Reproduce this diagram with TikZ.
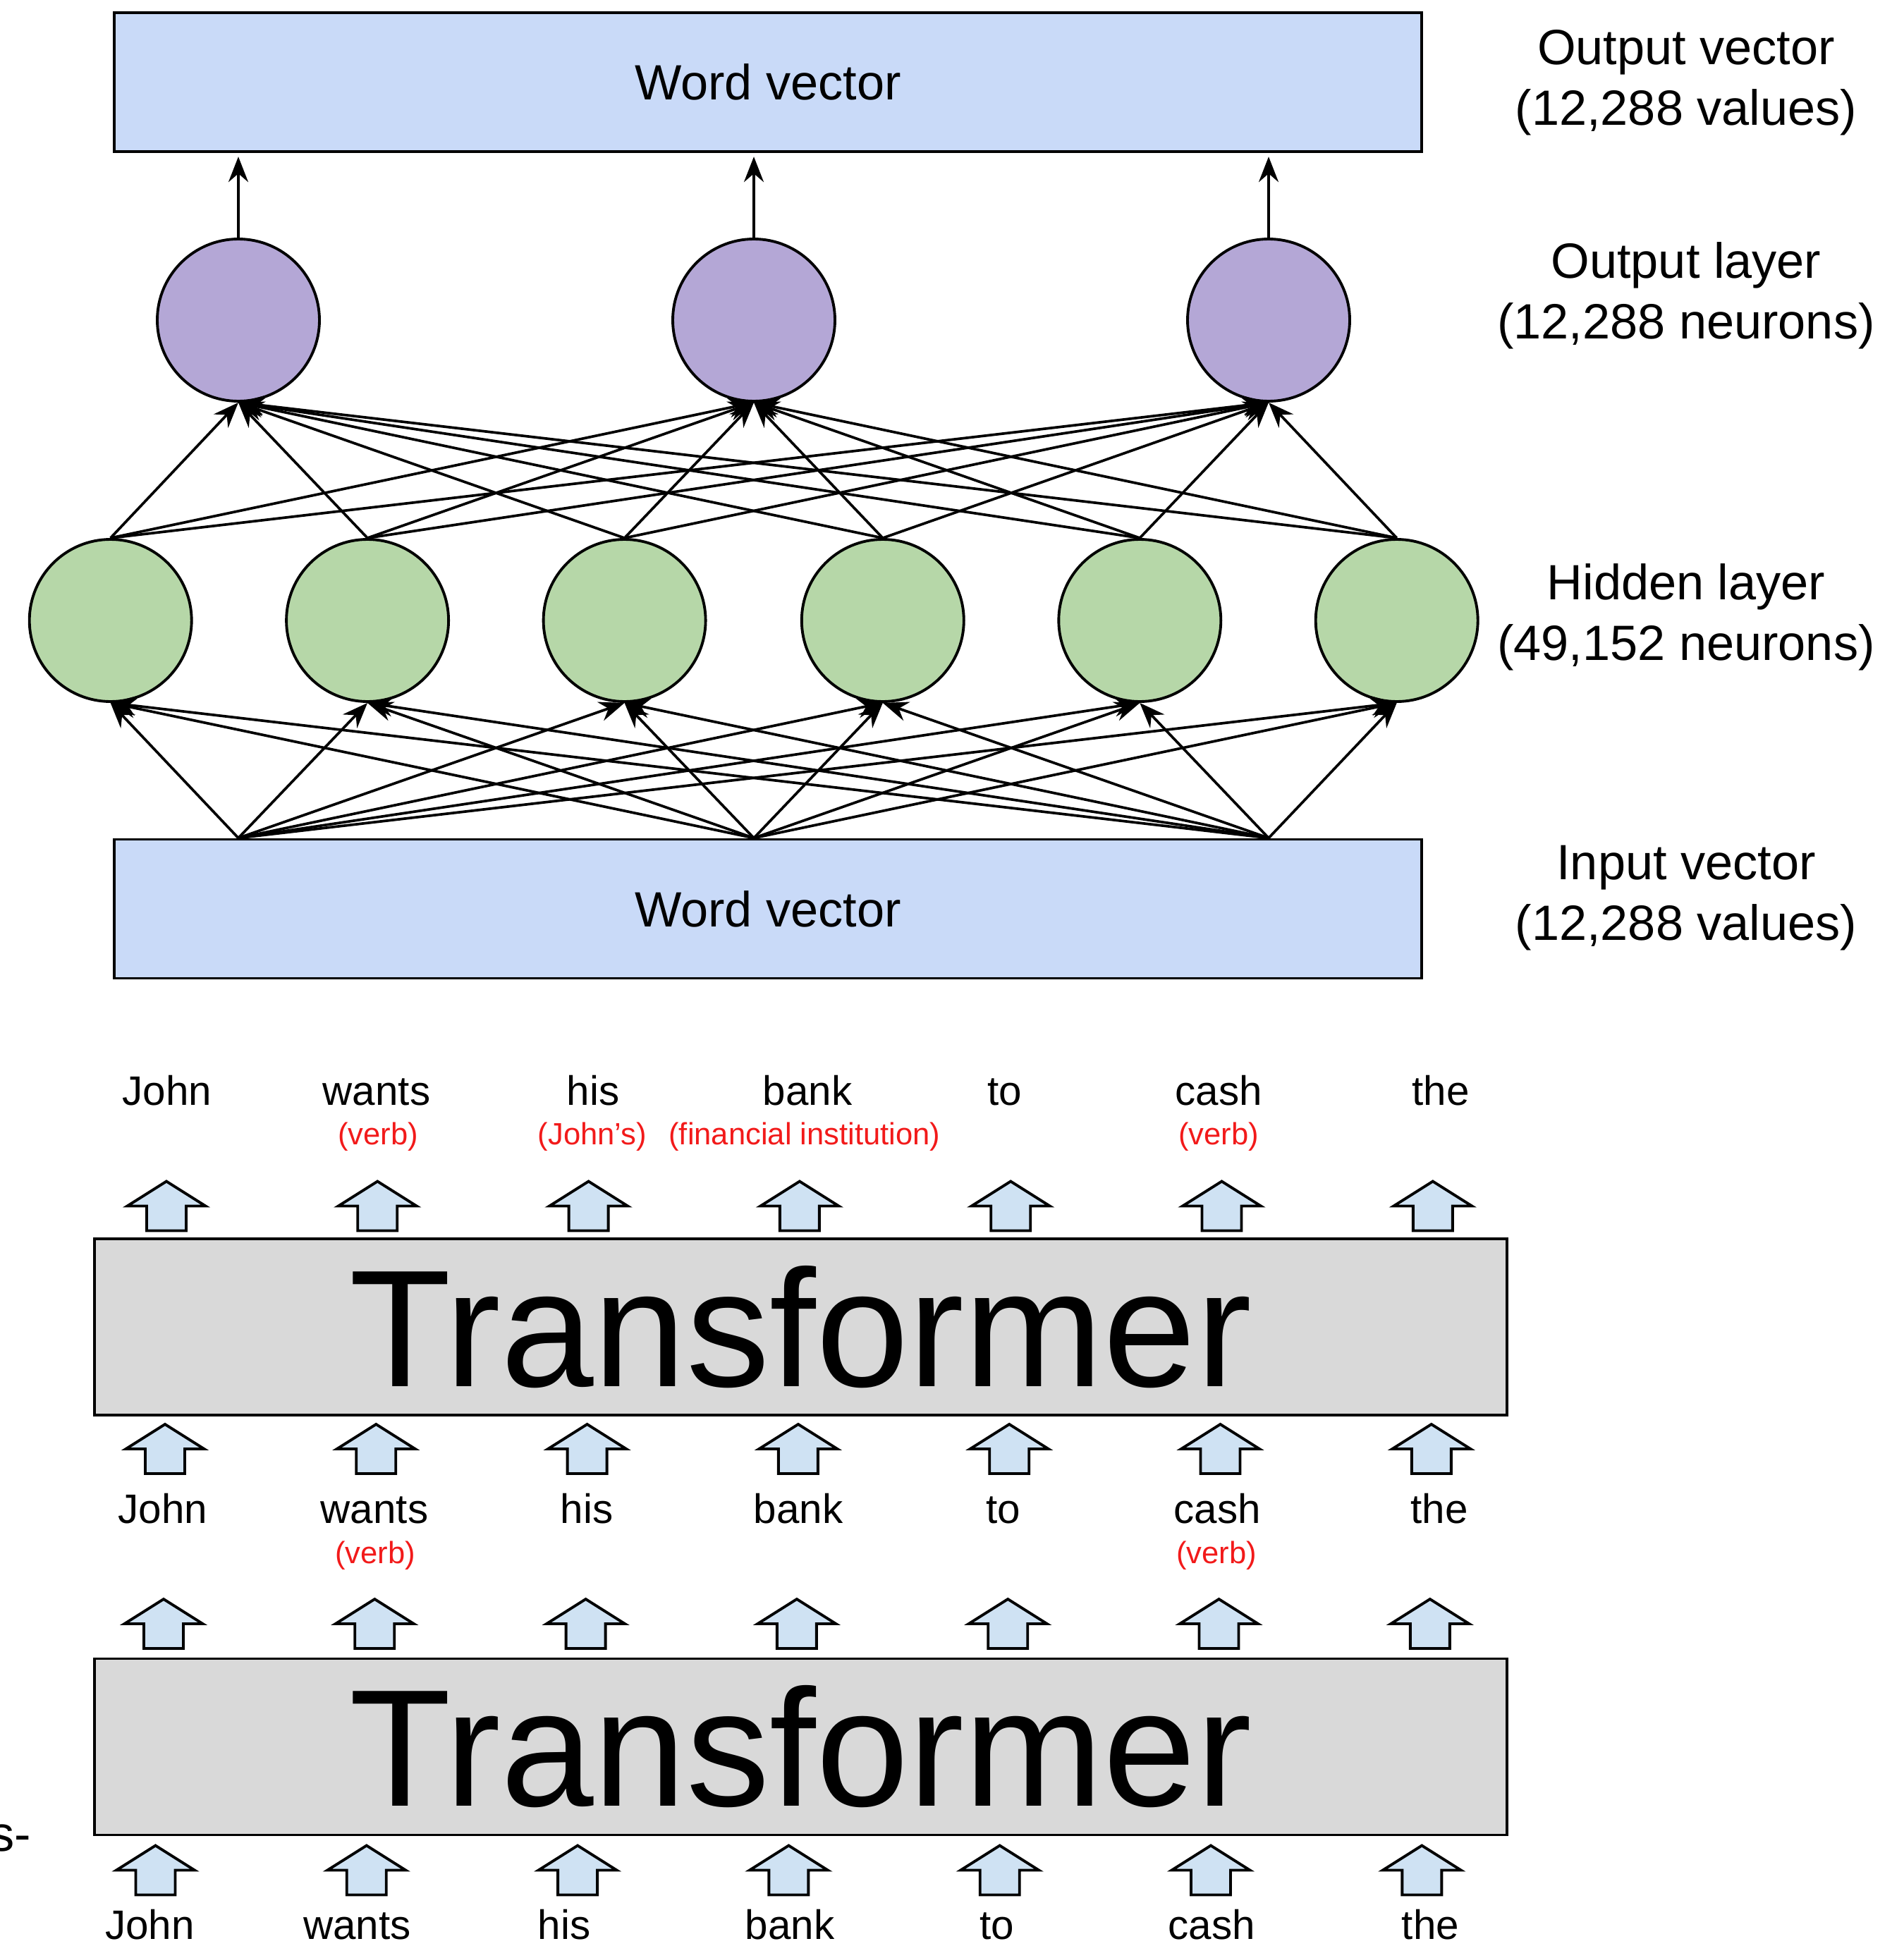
\documentclass[tikz,border=0pt]{standalone}
\usepackage{fontspec}
\setmainfont{Liberation Sans}
\usetikzlibrary{arrows.meta,positioning}

\definecolor{vecblue}{HTML}{C9DAF8}
\definecolor{outpurple}{HTML}{B4A7D6}
\definecolor{hidgreen}{HTML}{B6D7A8}
\definecolor{tfgray}{HTML}{D9D9D9}
\definecolor{arrblue}{HTML}{CFE2F3}
\definecolor{notered}{HTML}{F21A1A}

\tikzset{
  vecbox/.style={draw, fill=vecblue, line width=1.1pt, minimum width=18.54cm, minimum height=1.97cm, font=\fontsize{20}{24}\selectfont},
  neuron/.style={circle, draw, line width=1.1pt, minimum size=2.3cm, inner sep=0pt},
  tfbox/.style={draw, fill=tfgray, line width=1.1pt, minimum width=20.03cm, minimum height=2.5cm, font=\fontsize{67.3}{70}\selectfont},
  layerlabel/.style={align=center, font=\fontsize{20}{24.5}\selectfont},
  word/.style={anchor=base, inner sep=0pt, font=\fontsize{16.6}{20}\selectfont},
  note/.style={anchor=base, inner sep=0pt, text=notered, font=\fontsize{12.4}{15}\selectfont},
  link/.style={line width=1.05pt, -{Stealth[length=3.6mm, width=2.8mm, inset=1.2mm]}},
  uparr/.pic={\draw[fill=arrblue, line width=1.1pt] (-0.28,-0.35) -- (-0.28,0) -- (-0.555,0) -- (0,0.35) -- (0.555,0) -- (0.28,0) -- (0.28,-0.35) -- cycle;}
}

\begin{document}
\begin{tikzpicture}
    \useasboundingbox (0,0) rectangle (26.99,-27.60);

    % Word vectors of the feed-forward block
    \node[vecbox] (outbox) at (10.89,-1.165) {Word vector};
    \node[vecbox] (inbox) at (10.89,-12.89) {Word vector};

    % Output layer
    \node[neuron, fill=outpurple] (o1) at (3.38,-4.54) {};
    \node[neuron, fill=outpurple] (o2) at (10.69,-4.54) {};
    \node[neuron, fill=outpurple] (o3) at (17.99,-4.54) {};

    % Hidden layer
    \node[neuron, fill=hidgreen] (h1) at (1.567,-8.80) {};
    \node[neuron, fill=hidgreen] (h2) at (5.211,-8.80) {};
    \node[neuron, fill=hidgreen] (h3) at (8.856,-8.80) {};
    \node[neuron, fill=hidgreen] (h4) at (12.518,-8.80) {};
    \node[neuron, fill=hidgreen] (h5) at (16.163,-8.80) {};
    \node[neuron, fill=hidgreen] (h6) at (19.807,-8.80) {};

    % Where the lines leave and enter the two vectors
    \coordinate (i1) at (inbox.north -| o1);
    \coordinate (i2) at (inbox.north -| o2);
    \coordinate (i3) at (inbox.north -| o3);
    \coordinate (t1) at (outbox.south -| o1);
    \coordinate (t2) at (outbox.south -| o2);
    \coordinate (t3) at (outbox.south -| o3);

    % All connections
    \foreach \i in {1,2,3}
        \foreach \h in {1,...,6}
            \draw[link] (i\i) -- (h\h.south);
    \foreach \h in {1,...,6}
        \foreach \o in {1,2,3}
            \draw[link] (h\h.north) -- (o\o.south);
    \foreach \o in {1,2,3}
        \draw[link, shorten >=1.5pt] (o\o.north) -- (t\o);

    % Labels on the right
    \node[layerlabel] (lab1) at (23.91,-1.17) {Output vector\\(12,288 values)};
    \node[layerlabel] (lab2) at (23.91,-4.19) {Output layer\\(12,288 neurons)};
    \node[layerlabel] (lab3) at (23.91,-8.75) {Hidden layer\\(49,152 neurons)};
    \node[layerlabel] (lab4) at (23.91,-12.74) {Input vector\\(12,288 values)};

    % Words after the upper transformer
    \node[word] (top1) at (2.37,-15.67) {John};
    \node[word] (top2) at (5.34,-15.67) {wants};
    \node[word] (top3) at (8.41,-15.67) {his};
    \node[word] (top4) at (11.45,-15.67) {bank};
    \node[word] (top5) at (14.25,-15.67) {to};
    \node[word] (top6) at (17.28,-15.67) {cash};
    \node[word] (top7) at (20.43,-15.67) {the};
    \node[note] (topnote2) at (5.36,-16.23) {(verb)};
    \node[note] (topnote3) at (8.40,-16.23) {(John’s)};
    \node[note] (topnote4) at (11.41,-16.23) {(financial institution)};
    \node[note] (topnote6) at (17.28,-16.23) {(verb)};

    % The two transformer blocks
    \node[tfbox] (tf1) at (11.355,-18.82) {Transformer};
    \node[tfbox] (tf2) at (11.355,-24.775) {Transformer};

    % Words between the blocks
    \node[word] (mid1) at (2.31,-21.60) {John};
    \node[word] (mid2) at (5.31,-21.60) {wants};
    \node[word] (mid3) at (8.32,-21.60) {his};
    \node[word] (mid4) at (11.32,-21.60) {bank};
    \node[word] (mid5) at (14.23,-21.60) {to};
    \node[word] (mid6) at (17.26,-21.60) {cash};
    \node[word] (mid7) at (20.41,-21.60) {the};
    \node[note] (midnote2) at (5.32,-22.17) {(verb)};
    \node[note] (midnote6) at (17.25,-22.17) {(verb)};

    % Input words
    \node[word] (bot1) at (2.125,-27.50) {John};
    \node[word] (bot2) at (5.065,-27.50) {wants};
    \node[word] (bot3) at (8.00,-27.50) {his};
    \node[word] (bot4) at (11.20,-27.50) {bank};
    \node[word] (bot5) at (14.14,-27.50) {to};
    \node[word] (bot6) at (17.18,-27.50) {cash};
    \node[word] (bot7) at (20.285,-27.50) {the};

    % Block arrows
    \foreach \k in {0,...,6} {
        \pic at (2.36+2.993*\k,-17.105) {uparr};
        \pic at (2.34+2.993*\k,-20.55) {uparr};
        \pic at (2.32+2.993*\k,-23.03) {uparr};
        \pic at (2.205+2.993*\k,-26.525) {uparr};
    }

    % Cut-off text at the left edge
    \node[anchor=base east, inner sep=0pt, font=\fontsize{20}{24}\selectfont] (cut) at (0.45,-26.25) {s-};
\end{tikzpicture}
\end{document}
